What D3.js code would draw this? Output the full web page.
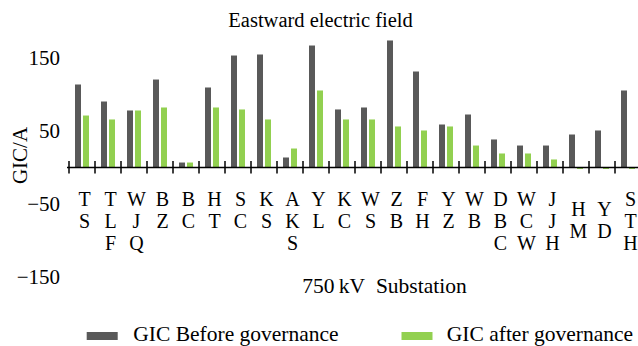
<!DOCTYPE html>
<html>
<head>
<meta charset="utf-8">
<script src="https://cdn.jsdelivr.net/npm/d3@7"></script>
<style>
  html, body { margin: 0; padding: 0; background: #fff; }
  svg { display: block; }
  svg text { font-family: "Liberation Serif", "DejaVu Serif", "Times New Roman", serif; }
</style>
</head>
<body>
<svg id="chart" width="638" height="346" font-family="Liberation Serif, DejaVu Serif, serif"></svg>
<script>
// ---- data ----
const categories = ["TS","TLF","WJQ","BZ","BC","HT","SC","KS","AKS","YL","KC","WS","ZB","FH","YZ","WB","DBC","WCW","JJH","HM","YD","STH"];
const gicBefore = [113.7, 90.4, 78.1, 120.5, 6.8, 109.6, 153.4, 154.8, 13.7, 167.1, 79.5, 82.2, 174, 131.5, 58.9, 72.6, 38.4, 30.1, 30.1, 45.2, 50.7, 105.5];
const gicAfter  = [71.2, 65.8, 78.1, 82.2, 6.8, 82.2, 79.5, 65.8, 26, 105.5, 65.8, 65.8, 56.2, 50.7, 56.2, 30.1, 19.2, 19.2, 11, -2, -2, -2];
const seriesNames = ["GIC Before governance", "GIC after governance"];
const yTickValues = [150, 50, -50, -150];
const titleText = "Eastward electric field";
const xAxisTitle = "750\u2009kV\u2002Substation";
const yAxisTitle = "GIC/A";

// ---- drawing ----
const colors = ["#595959", "#92d050"];
const svg = d3.select("#chart");

const x = d3.scaleBand().domain(categories).range([69, 641])
  .paddingInner(12 / 26).paddingOuter(6 / 26);
const x1 = d3.scaleBand().domain([0, 1]).range([0, x.bandwidth()]).paddingInner(0.25);
const y = d3.scaleLinear().domain([-150, 150]).range([277, 58]);

// title
svg.append("text").attr("x", 320.5).attr("y", 27)
  .attr("text-anchor", "middle").attr("font-size", 20.5).text(titleText);

// y tick labels
svg.append("g").selectAll("text").data(yTickValues).join("text")
  .attr("x", 60).attr("y", d => y(d)).attr("dy", "0.35em")
  .attr("text-anchor", "end").attr("font-size", 21)
  .text(d => d < 0 ? "\u2212" + Math.abs(d) : d);

// y axis title
svg.append("text")
  .attr("transform", "translate(27,155.5) rotate(-90)")
  .attr("text-anchor", "middle").attr("font-size", 21).text(yAxisTitle);

// bars
const data = categories.map((c, i) => ({ c, vals: [gicBefore[i], gicAfter[i]] }));
const groups = svg.append("g").selectAll("g").data(data).join("g")
  .attr("transform", d => `translate(${x(d.c)},0)`);
groups.selectAll("rect").data(d => d.vals.map((v, k) => ({ v, k }))).join("rect")
  .attr("x", d => x1(d.k)).attr("width", x1.bandwidth())
  .attr("y", d => Math.min(y(d.v), y(0)))
  .attr("height", d => Math.abs(y(d.v) - y(0)))
  .attr("fill", d => colors[d.k]);

// x axis line and ticks at band edges
const y0 = y(0);
svg.append("line").attr("x1", 67).attr("x2", 638).attr("y1", y0).attr("y2", y0)
  .attr("stroke", "#000").attr("stroke-width", 1.6);
const edges = categories.map(c => x(c) - (x.step() - x.bandwidth()) / 2);
edges.push(edges[edges.length - 1] + x.step());
svg.append("g").selectAll("line").data(edges).join("line")
  .attr("x1", d => d).attr("x2", d => d)
  .attr("y1", y0 - 6.5).attr("y2", y0 + 6)
  .attr("stroke", "#000").attr("stroke-width", 1.5);

// category labels (stacked letters)
const centered = new Set(["HM", "YD"]);
const lab = svg.append("g").selectAll("g").data(categories).join("g")
  .attr("transform", c => `translate(${x(c) + x.bandwidth() / 2 + 2.5},0)`);
lab.each(function (c) {
  const letters = c.split("");
  const start = centered.has(c) ? 215.6 : 205.8;
  d3.select(this).selectAll("text").data(letters).join("text")
    .attr("x", 0).attr("y", (d, i) => start + i * 22.2)
    .attr("text-anchor", "middle").attr("font-size", 20).text(d => d);
});

// x axis title
svg.append("text").attr("x", 384.5).attr("y", 293)
  .attr("text-anchor", "middle").attr("font-size", 21.5)
  .style("white-space", "pre").text(xAxisTitle);

// legend
const legendX = [86.7, 401.5];
const leg = svg.append("g").selectAll("g").data(seriesNames).join("g")
  .attr("transform", (d, i) => `translate(${legendX[i]},0)`);
leg.append("rect").attr("x", 0).attr("y", 332).attr("width", 31).attr("height", 8)
  .attr("fill", (d, i) => colors[i]);
leg.append("text").attr("x", (d, i) => i === 0 ? 46.6 : 45.3).attr("y", 341)
  .attr("font-size", 21.5).text(d => d);
</script>
</body>
</html>
